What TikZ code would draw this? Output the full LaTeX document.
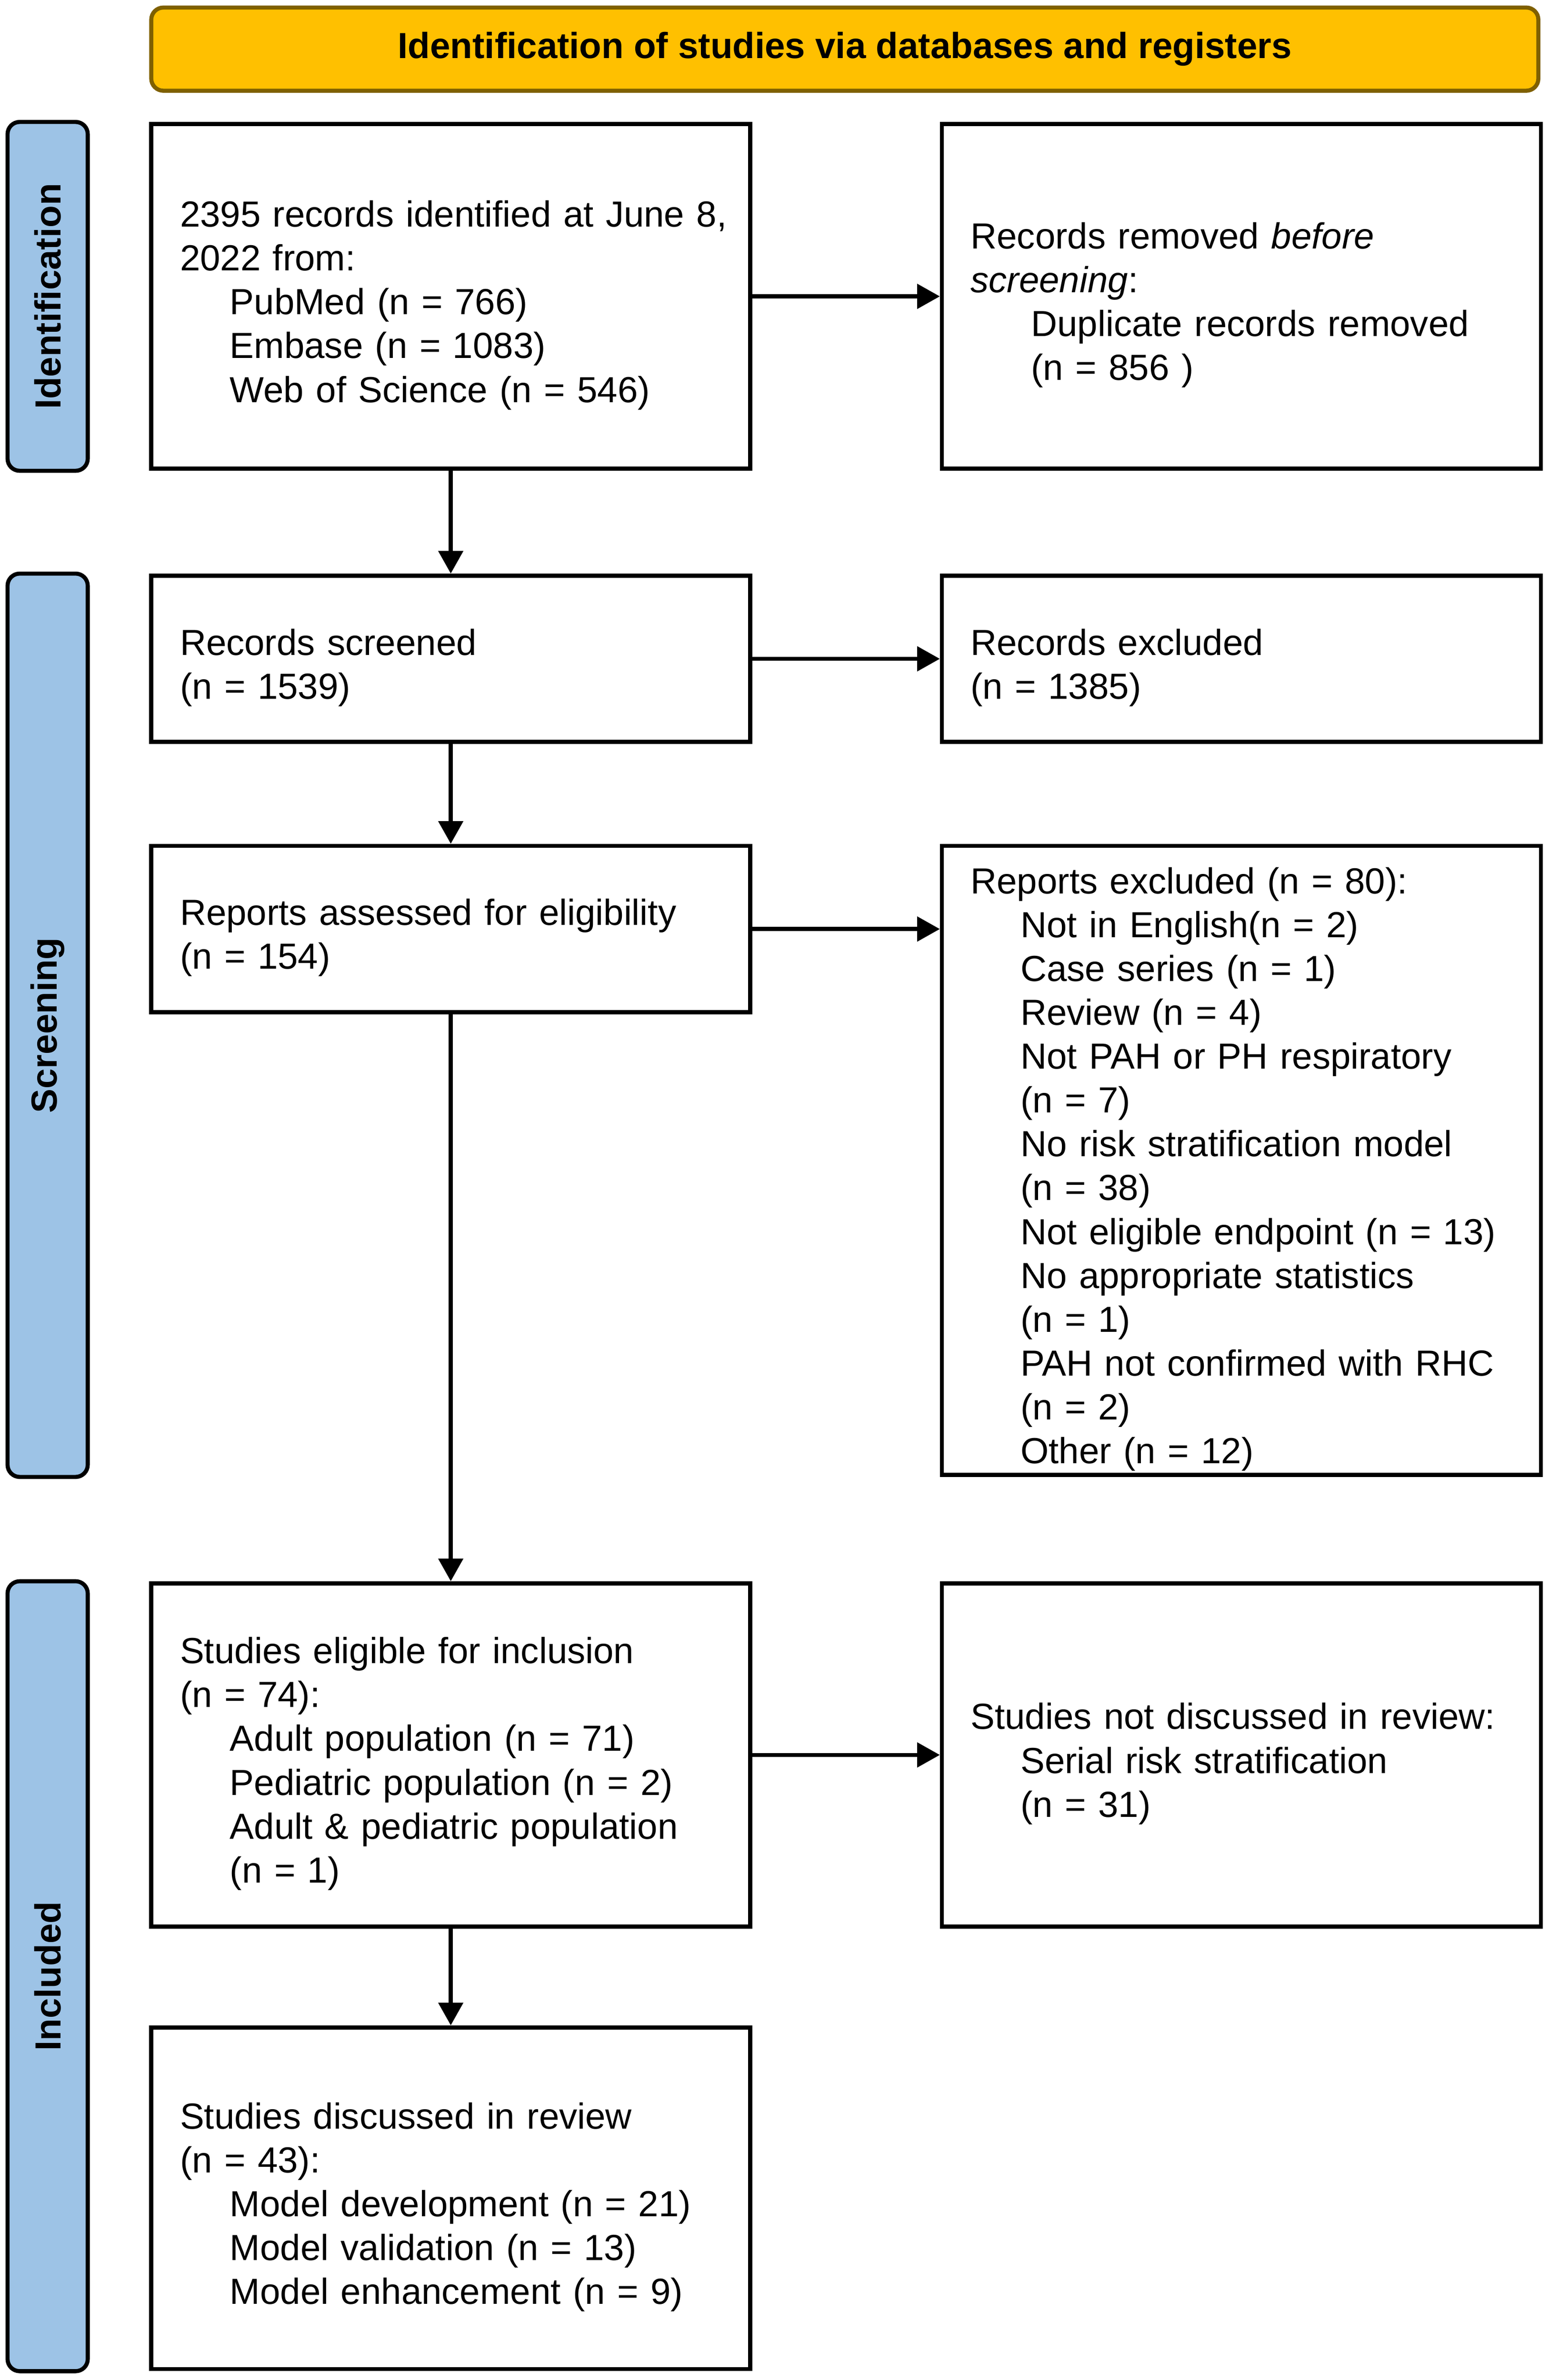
\documentclass[tikz,border=0pt]{standalone}
\usepackage{fontspec}
\setmainfont{Liberation Sans}
\usetikzlibrary{
  positioning,
  fit,
  arrows.meta,
  calc
}
\definecolor{bannerbg}{RGB}{255,192,0}
\definecolor{bannerborder}{RGB}{127,96,0}
\definecolor{phasebg}{RGB}{157,195,230}
\newcommand{\subline}{\hspace*{33pt}}

\begin{document}
\begin{tikzpicture}[
      x=1pt, y=1pt,
      >={Triangle[width=16pt,length=15pt]},
      record/.style={
        rectangle,
        draw=black,
        fill=white,
        line width=2.7pt,
        minimum width=396pt,
        text width=358pt,
        inner xsep=19pt,
        inner ysep=0pt,
        align=left,
        font=\fontsize{24}{29}\selectfont,
        execute at begin node={\rule{0pt}{29pt}}
      },
      banner/.style={
        rectangle,
        rounded corners=8pt,
        draw=bannerborder,
        fill=bannerbg,
        line width=2.7pt,
        minimum width=917pt,
        minimum height=55pt,
        font=\fontsize{24}{29}\selectfont\bfseries
      },
      phase/.style={
        rectangle,
        rounded corners=8pt,
        draw=black,
        fill=phasebg,
        line width=2.7pt,
        inner sep=0pt
      },
      phaselabel/.style={
        rotate=90,
        font=\fontsize{24}{29}\selectfont\bfseries
      },
      flow/.style={
        ->,
        line width=2.7pt
      }
    ]

    \useasboundingbox (0,0) rectangle (1024,-1574);

    % Banner
    \node[banner] (banner) at (558.5,-32.5)
      {Identification of studies via databases and registers};

    % Identification
    \node[record, minimum height=228pt] (ident) at (298,-196)
      {\mbox{2395 records identified at June 8,}\\ 2022 from:\\
       \subline PubMed (n = 766)\\
       \subline Embase (n = 1083)\\
       \subline Web of Science (n = 546)};
    \node[record, minimum height=228pt, right=124pt of ident] (removed)
      {Records removed \textit{before}\\ \textit{screening}:\\
       \hspace*{40pt}Duplicate records removed\\
       \hspace*{40pt}(n = 856 )};

    % Screening
    \node[record, minimum height=110pt, below=68pt of ident] (screened)
      {Records screened\\ (n = 1539)};
    \node[record, minimum height=110pt, right=124pt of screened] (excluded)
      {Records excluded\\ (n = 1385)};
    \node[record, minimum height=110pt, below=66pt of screened] (assessed)
      {Reports assessed for eligibility\\ (n = 154)};
    \node[record, minimum height=416pt, right=124pt of assessed.north east,
          anchor=north west] (reportsexcl)
      {Reports excluded (n = 80):\\
       \subline Not in English(n = 2)\\
       \subline Case series (n = 1)\\
       \subline Review (n = 4)\\
       \subline Not PAH or PH respiratory\\
       \subline (n = 7)\\
       \subline No risk stratification model\\
       \subline (n = 38)\\
       \subline Not eligible endpoint (n = 13)\\
       \subline No appropriate statistics\\
       \subline (n = 1)\\
       \subline PAH not confirmed with RHC\\
       \subline (n = 2)\\
       \subline Other (n = 12)};

    % Included
    \node[record, minimum height=227pt, below=375pt of assessed] (eligible)
      {Studies eligible for inclusion\\ (n = 74):\\
       \subline Adult population (n = 71)\\
       \subline Pediatric population (n = 2)\\
       \subline Adult \& pediatric population\\
       \subline (n = 1)};
    \node[record, minimum height=227pt, right=124pt of eligible] (notdiscussed)
      {Studies not discussed in review:\\
       \subline Serial risk stratification\\
       \subline (n = 31)};
    \node[record, minimum height=226pt, below=64pt of eligible] (discussed)
      {Studies discussed in review\\ (n = 43):\\
       \subline Model development (n = 21)\\
       \subline Model validation (n = 13)\\
       \subline Model enhancement (n = 9)};

    % Phase bars
    \coordinate (phaseleft) at (5,0);
    \coordinate (phaseright) at (58,0);
    \node[phase, fit={(phaseleft |- ident.north) (phaseright |- ident.south)}]
      (idphase) {};
    \node[phaselabel] at (idphase.center) {Identification};
    \node[phase, fit={(phaseleft |- screened.north) (phaseright |- reportsexcl.south)}]
      (scrphase) {};
    \node[phaselabel] at (scrphase.center) {Screening};
    \node[phase, fit={(phaseleft |- eligible.north) (phaseright |- discussed.south)}]
      (incphase) {};
    \node[phaselabel] at (incphase.center) {Included};

    % Flow
    \draw[flow] (ident) -- (removed);
    \draw[flow] (ident) -- (screened);
    \draw[flow] (screened) -- (excluded);
    \draw[flow] (screened) -- (assessed);
    \draw[flow] (assessed.east) -- (assessed.east -| reportsexcl.west);
    \draw[flow] (assessed) -- (eligible);
    \draw[flow] (eligible) -- (notdiscussed);
    \draw[flow] (eligible) -- (discussed);

\end{tikzpicture}
\end{document}
